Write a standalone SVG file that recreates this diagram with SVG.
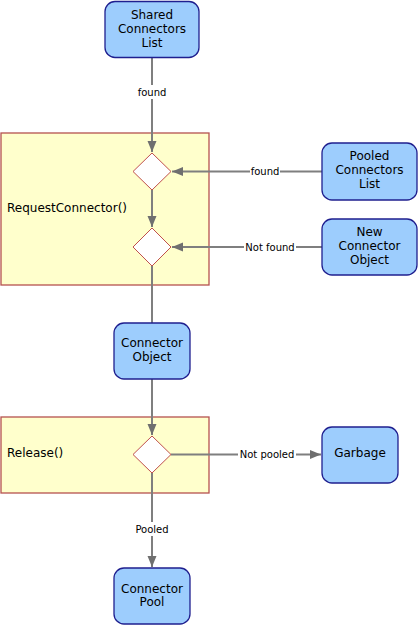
<svg xmlns="http://www.w3.org/2000/svg" width="418" height="626" viewBox="0 0 418 626">
<style>
.box{fill:#9dcdfd;stroke:#1f1f8f;stroke-width:1.3}
.frame{fill:#ffffcc;stroke:#b5524f;stroke-width:1.3}
.dia{fill:#ffffff;stroke:#c0504d;stroke-width:1}
.t{font-family:"DejaVu Sans",Verdana,sans-serif;font-size:12px;fill:#000;text-anchor:middle}
.tl{font-family:"DejaVu Sans",Verdana,sans-serif;font-size:12px;fill:#000}
.lb{font-family:"DejaVu Sans",Verdana,sans-serif;font-size:10px;fill:#000;text-anchor:middle}
.c{stroke:#7f7f7f;stroke-width:2;fill:none}
.bg{fill:#ffffff}
</style>
<defs>
<marker id="ah" markerUnits="userSpaceOnUse" markerWidth="12" markerHeight="12" viewBox="0 0 12 12" refX="11" refY="6" orient="auto">
<path d="M0,1.5 L11,6 L0,10.5 Z" fill="#6f6f6f"/>
</marker>
</defs>
<g id="frame-request">
<rect class="frame" x="1" y="133" width="208" height="152"/>
<text class="tl" x="7" y="212">RequestConnector()</text>
</g>
<g id="frame-release">
<rect class="frame" x="1" y="417" width="208" height="76"/>
<text class="tl" x="7" y="457">Release()</text>
</g>
<g id="connectors">
<path class="c" d="M152,57 V152" marker-end="url(#ah)"/>
<path class="c" d="M152,190 V227" marker-end="url(#ah)"/>
<path class="c" d="M152,266 V323"/>
<path class="c" d="M152,379 V435" marker-end="url(#ah)"/>
<path class="c" d="M152,473 V567" marker-end="url(#ah)"/>
<path class="c" d="M322,171.5 H172" marker-end="url(#ah)"/>
<path class="c" d="M322,247 H172" marker-end="url(#ah)"/>
<path class="c" d="M171,454.5 H321" marker-end="url(#ah)"/>
<rect class="bg" x="136" y="85" width="32" height="14"/>
<text class="lb" x="152" y="95.5">found</text>
<rect class="bg" x="250" y="164.5" width="30" height="14"/>
<text class="lb" x="265" y="175">found</text>
<rect class="bg" x="244" y="240" width="52" height="14"/>
<text class="lb" x="270" y="250.5">Not found</text>
<rect class="bg" x="238" y="447.5" width="58" height="14"/>
<text class="lb" x="267" y="458">Not pooled</text>
<rect class="bg" x="133" y="522" width="38" height="14"/>
<text class="lb" x="152" y="532.5">Pooled</text>
</g>
<g id="d1"><path class="dia" d="M152,153 L171,171.5 L152,190 L133,171.5 Z"/></g>
<g id="d2"><path class="dia" d="M152,228 L171,247 L152,266 L133,247 Z"/></g>
<g id="d3"><path class="dia" d="M152,436 L171,454.5 L152,473 L133,454.5 Z"/></g>
<g id="shared">
<rect class="box" x="105" y="1.5" width="94" height="56" rx="10"/>
<text class="t" x="152" y="18.5">Shared</text>
<text class="t" x="152" y="32.5">Connectors</text>
<text class="t" x="152" y="46.5">List</text>
</g>
<g id="pooled">
<rect class="box" x="322" y="143" width="95" height="57" rx="10"/>
<text class="t" x="369.5" y="160">Pooled</text>
<text class="t" x="369.5" y="174">Connectors</text>
<text class="t" x="369.5" y="188">List</text>
</g>
<g id="newobj">
<rect class="box" x="322" y="219" width="95" height="56" rx="10"/>
<text class="t" x="369.5" y="236">New</text>
<text class="t" x="369.5" y="250">Connector</text>
<text class="t" x="369.5" y="263.5">Object</text>
</g>
<g id="connobj">
<rect class="box" x="114" y="323" width="76" height="56" rx="10"/>
<text class="t" x="152" y="347">Connector</text>
<text class="t" x="152" y="360.5">Object</text>
</g>
<g id="garbage">
<rect class="box" x="322" y="427" width="76" height="56" rx="10"/>
<text class="t" x="360" y="457">Garbage</text>
</g>
<g id="pool">
<rect class="box" x="114" y="568" width="76" height="56" rx="10"/>
<text class="t" x="152" y="593">Connector</text>
<text class="t" x="152" y="606">Pool</text>
</g>
</svg>
